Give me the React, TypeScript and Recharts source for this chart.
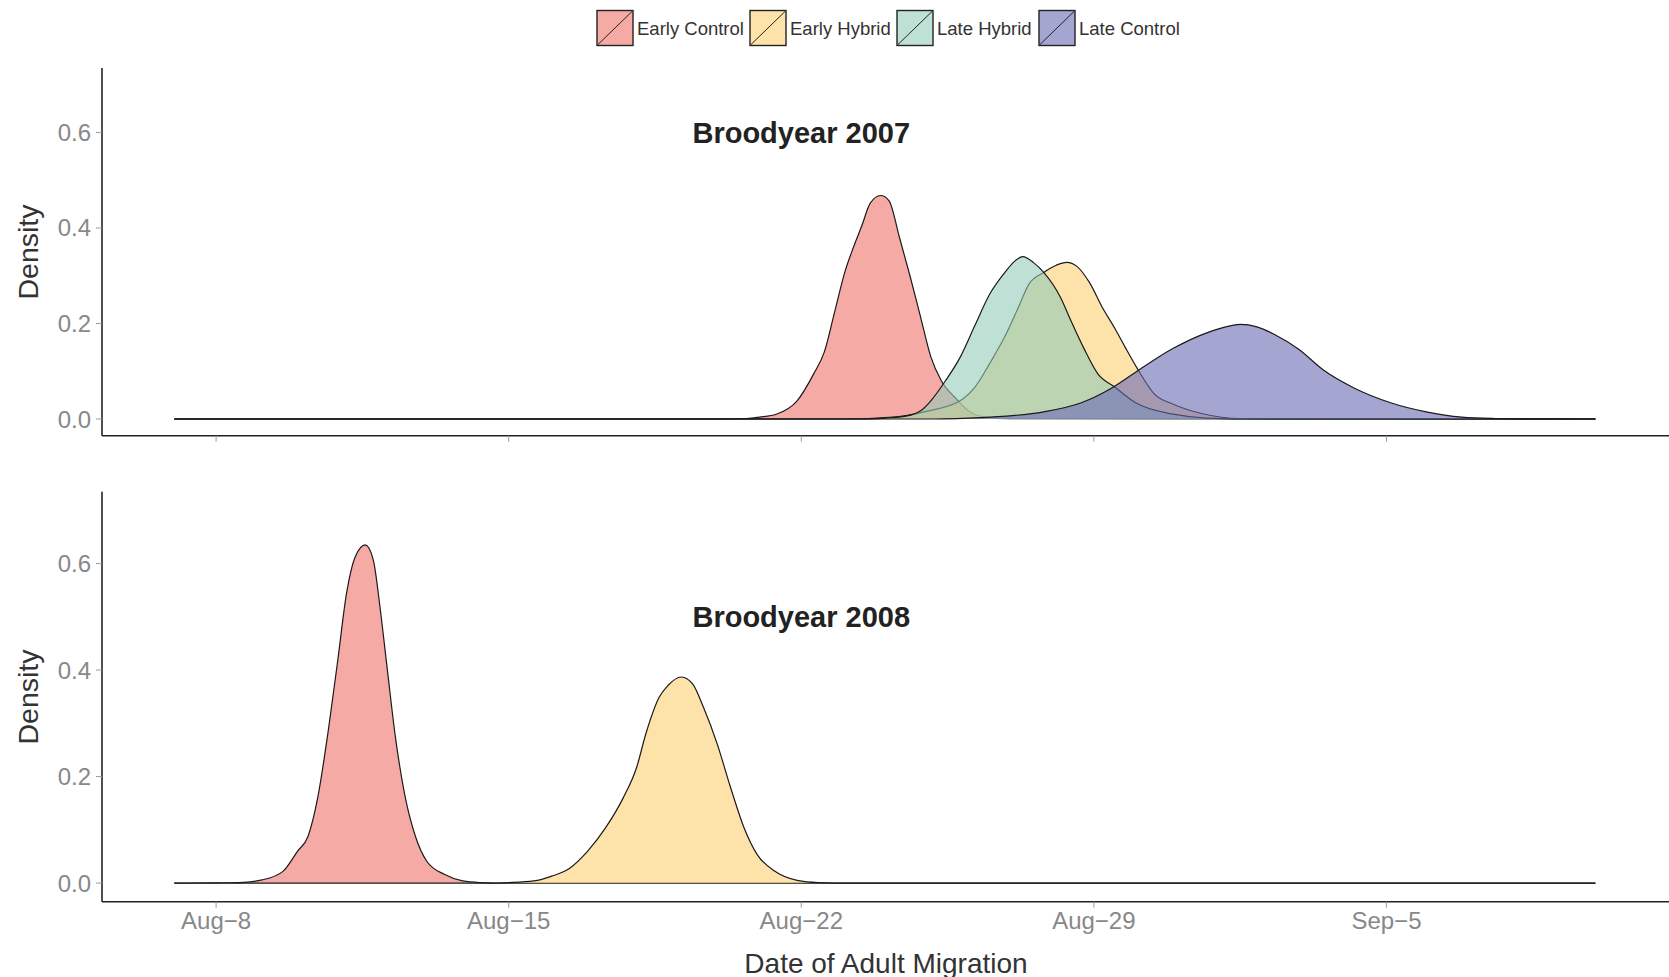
import React from "react";
import { AreaChart, Area, XAxis, YAxis, ReferenceDot } from "recharts";

// x = days after Aug-8 (0 = Aug-8), y = density
const SERIES_NAMES = ["Early Control", "Early Hybrid", "Late Hybrid", "Late Control"];
const SERIES_KEYS = ["ec", "eh", "lh", "lc"];
const SERIES_COLORS = ["#EE7169", "#FCCF71", "#93CBB9", "#6969B4"];

const X_TICKS = [0, 7, 14, 21, 28];
const X_TICK_LABELS = ["Aug\u22128", "Aug\u221215", "Aug\u221222", "Aug\u221229", "Sep\u22125"];
const Y_TICKS = [0, 0.2, 0.4, 0.6];

const PANEL_TITLES = ["Broodyear 2007", "Broodyear 2008"];
const PANEL_TITLE_X = [14, 14];
const PANEL_TITLE_Y = [0.6, 0.5];

// Broodyear 2007
const ec2007: [number, number][] = [
  [-1, 0], [12.0, 0], [12.7, 0.001], [13.0, 0.004], [13.4, 0.01], [13.9, 0.038], [14.3, 0.095],
  [14.55, 0.14], [14.8, 0.225], [15.05, 0.31], [15.25, 0.36], [15.45, 0.405], [15.65, 0.452],
  [15.9, 0.468], [16.1, 0.457], [16.35, 0.38], [16.6, 0.3], [16.85, 0.215], [17.1, 0.13],
  [17.35, 0.08], [17.7, 0.043], [18.0, 0.017], [18.4, 0.004], [19.0, 0.0005], [33, 0],
];
const eh2007: [number, number][] = [
  [-1, 0], [15.0, 0], [16.2, 0.004], [17.0, 0.016], [17.8, 0.038], [18.15, 0.066], [18.5, 0.115],
  [18.9, 0.178], [19.2, 0.235], [19.45, 0.283], [19.8, 0.307], [20.1, 0.322], [20.35, 0.328],
  [20.6, 0.319], [20.9, 0.285], [21.2, 0.234], [21.5, 0.19], [21.75, 0.15], [22.05, 0.104],
  [22.45, 0.052], [22.9, 0.031], [23.6, 0.011], [24.5, 0.001], [33, 0],
];
const lh2007: [number, number][] = [
  [-1, 0], [15.5, 0], [16.0, 0.002], [16.5, 0.006], [16.9, 0.02], [17.1, 0.038], [17.45, 0.08],
  [17.8, 0.129], [18.15, 0.195], [18.5, 0.26], [18.9, 0.31], [19.1, 0.33], [19.3, 0.34],
  [19.55, 0.328], [19.8, 0.307], [20.2, 0.255], [20.45, 0.206], [20.75, 0.15], [21.1, 0.094],
  [21.5, 0.067], [22.0, 0.034], [22.9, 0.01], [23.7, 0.002], [25, 0], [33, 0],
];
const lc2007: [number, number][] = [
  [-1, 0], [17.0, 0], [18.0, 0.002], [18.5, 0.004], [19.8, 0.015], [20.7, 0.034], [21.45, 0.066],
  [22.05, 0.101], [22.9, 0.148], [23.75, 0.182], [24.2, 0.194], [24.5, 0.198], [24.9, 0.193],
  [25.3, 0.178], [25.9, 0.146], [26.5, 0.102], [27.2, 0.066], [28.1, 0.034], [28.95, 0.015],
  [29.8, 0.004], [30.6, 0.001], [31.5, 0], [33, 0],
];

// Broodyear 2008
const ec2008: [number, number][] = [
  [-1, 0], [0, 0.0005], [0.55, 0.001], [1.1, 0.006], [1.6, 0.022], [1.95, 0.06], [2.2, 0.088],
  [2.43, 0.16], [2.69, 0.29], [2.91, 0.418], [3.12, 0.544], [3.33, 0.613], [3.57, 0.635],
  [3.76, 0.607], [3.92, 0.519], [4.08, 0.412], [4.29, 0.274], [4.51, 0.167], [4.78, 0.085],
  [5.04, 0.041], [5.47, 0.016], [5.9, 0.004], [6.3, 0.001], [7, 0], [33, 0],
];
const eh2008: [number, number][] = [
  [-1, 0], [6.5, 0], [7.0, 0.001], [7.6, 0.004], [8.03, 0.013], [8.46, 0.028], [8.89, 0.06],
  [9.32, 0.104], [9.74, 0.16], [10.06, 0.217], [10.28, 0.28], [10.6, 0.349], [10.81, 0.371],
  [11.13, 0.387], [11.4, 0.374], [11.66, 0.33], [11.99, 0.261], [12.31, 0.179], [12.63, 0.104],
  [12.95, 0.053], [13.37, 0.022], [13.9, 0.005], [14.4, 0.001], [15.3, 0], [33, 0],
];

type Pts = [number, number][];
function merge(series: Record<string, Pts>) {
  const xs = new Set<number>();
  Object.values(series).forEach((s) => s.forEach(([x]) => xs.add(x)));
  const sorted = Array.from(xs).sort((a, b) => a - b);
  return sorted.map((x) => {
    const row: Record<string, number | null> = { x };
    Object.entries(series).forEach(([k, s]) => {
      const p = s.find((q) => q[0] === x);
      row[k] = p ? p[1] : null;
    });
    return row;
  });
}

const data2007 = merge({ ec: ec2007, eh: eh2007, lh: lh2007, lc: lc2007 });
const data2008 = merge({ ec: ec2008, eh: eh2008 });

const FONT = "'Liberation Sans', Arial, Helvetica, sans-serif";
const X_DOMAIN: [number, number] = [-2.73, 34.76];
const Y_DOMAIN: [number, number] = [-0.035, 0.735];

function Panel({
  data,
  keys,
  height,
  marginTop,
  xAxisHeight,
  showLabels,
  title,
  titleX,
  titleY,
}: any) {
  return (
    <AreaChart
      width={1669}
      height={height}
      data={data}
      margin={{ top: marginTop, right: 0, bottom: 0, left: 0 }}
    >
      <XAxis
        dataKey="x"
        type="number"
        domain={X_DOMAIN}
        allowDataOverflow
        ticks={X_TICKS}
        height={xAxisHeight}
        tickSize={6}
        tickMargin={4}
        axisLine={{ stroke: "#222", strokeWidth: 1.6 }}
        tickLine={{ stroke: "#999" }}
        tick={{ fontSize: 24, fill: "#888", fontFamily: FONT }}
        tickFormatter={(v: number) => (showLabels ? X_TICK_LABELS[X_TICKS.indexOf(v)] : "")}
      />
      <YAxis
        type="number"
        domain={Y_DOMAIN}
        allowDataOverflow
        ticks={Y_TICKS}
        width={102}
        tickSize={6}
        tickMargin={5}
        axisLine={{ stroke: "#222", strokeWidth: 1.6 }}
        tickLine={{ stroke: "#999" }}
        tick={{ fontSize: 24, fill: "#888", fontFamily: FONT }}
        tickFormatter={(v: number) => v.toFixed(1)}
      />
      {keys.map((k: string) => {
        const i = SERIES_KEYS.indexOf(k);
        return (
          <Area
            key={k}
            dataKey={k}
            name={SERIES_NAMES[i]}
            type="monotone"
            baseValue={0}
            connectNulls
            fill={SERIES_COLORS[i]}
            fillOpacity={0.6}
            stroke="#1a1a1a"
            strokeWidth={1.2}
            dot={false}
            activeDot={false}
            isAnimationActive={false}
          />
        );
      })}
      <ReferenceDot
        x={titleX}
        y={titleY}
        r={0}
        fill="none"
        stroke="none"
        label={{
          value: title,
          position: "center",
          fontSize: 29,
          fontWeight: "bold",
          fill: "#222",
          fontFamily: FONT,
        }}
      />
    </AreaChart>
  );
}

const LEGEND_BOX_X = [597, 750, 897, 1039];

export default function App() {
  return (
    <div
      style={{
        position: "absolute",
        left: 0,
        top: 0,
        width: 1669,
        height: 977,
        background: "#fff",
        fontFamily: FONT,
      }}
    >
      <div style={{ position: "absolute", left: 0, top: 0 }}>
        <Panel
          data={data2007}
          keys={["ec", "eh", "lh", "lc"]}
          height={470}
          marginTop={68}
          xAxisHeight={34.3}
          showLabels={false}
          title={PANEL_TITLES[0]}
          titleX={PANEL_TITLE_X[0]}
          titleY={PANEL_TITLE_Y[0]}
        />
      </div>
      <div style={{ position: "absolute", left: 0, top: 470 }}>
        <Panel
          data={data2008}
          keys={["ec", "eh"]}
          height={507}
          marginTop={21.7}
          xAxisHeight={75.3}
          showLabels={true}
          title={PANEL_TITLES[1]}
          titleX={PANEL_TITLE_X[1]}
          titleY={PANEL_TITLE_Y[1]}
        />
      </div>
      <svg
        width={1669}
        height={977}
        style={{ position: "absolute", left: 0, top: 0, pointerEvents: "none" }}
      >
        {SERIES_NAMES.map((n, i) => {
          const x = LEGEND_BOX_X[i];
          return (
            <g key={n}>
              <rect x={x} y={10.5} width={36} height={35} fill="#fff" />
              <rect
                x={x}
                y={10.5}
                width={36}
                height={35}
                fill={SERIES_COLORS[i]}
                fillOpacity={0.6}
                stroke="#222"
                strokeWidth={1.4}
              />
              <line x1={x + 1} y1={44.5} x2={x + 35} y2={11.5} stroke="#222" strokeWidth={1} />
              <text
                x={x + 40}
                y={28.5}
                dominantBaseline="central"
                fontSize={18.5}
                fill="#333"
                fontFamily={FONT}
              >
                {n}
              </text>
            </g>
          );
        })}
        <text
          x={28}
          y={252}
          transform="rotate(-90 28 252)"
          textAnchor="middle"
          dominantBaseline="central"
          fontSize={28.5}
          fill="#333"
          fontFamily={FONT}
        >
          Density
        </text>
        <text
          x={28}
          y={697}
          transform="rotate(-90 28 697)"
          textAnchor="middle"
          dominantBaseline="central"
          fontSize={28.5}
          fill="#333"
          fontFamily={FONT}
        >
          Density
        </text>
        <text
          x={886}
          y={963}
          textAnchor="middle"
          dominantBaseline="central"
          fontSize={28}
          fill="#333"
          fontFamily={FONT}
        >
          Date of Adult Migration
        </text>
      </svg>
    </div>
  );
}
